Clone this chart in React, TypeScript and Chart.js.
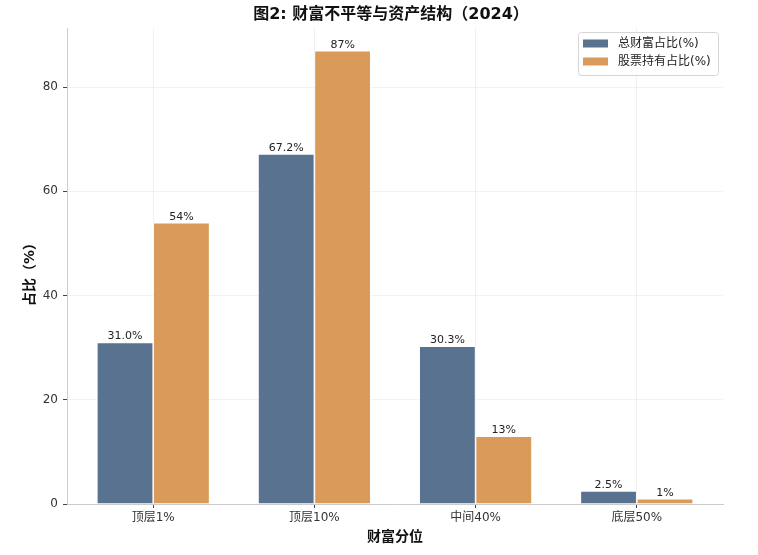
import { useEffect, useRef } from "react";
import { Chart, registerables } from "chart.js";

Chart.register(...registerables);

const categories = ["顶层1%", "顶层10%", "中间40%", "底层50%"];
const wealthShare = [31.0, 67.2, 30.3, 2.5];
const stockShare = [54, 87, 13, 1];
const seriesNames = ["总财富占比(%)", "股票持有占比(%)"];
const yTicks = [0, 20, 40, 60, 80];

const FONT = "'DejaVu Sans', 'Noto Sans CJK SC', sans-serif";
const BLUE = "#587290";
const ORANGE = "#d99a5a";

const textPlugin = {
  id: "texts",
  afterDraw(chart: any) {
    const ctx = chart.ctx;
    const area = chart.chartArea;
    ctx.save();

    // value labels
    ctx.fillStyle = "#222";
    ctx.font = `11px ${FONT}`;
    ctx.textAlign = "center";
    ctx.textBaseline = "alphabetic";
    chart.data.datasets.forEach((ds: any, di: number) => {
      const meta = chart.getDatasetMeta(di);
      meta.data.forEach((bar: any, i: number) => {
        const v = ds.data[i].y;
        const txt = di === 0 ? v.toFixed(1) + "%" : Math.round(v) + "%";
        ctx.fillText(txt, bar.x, bar.y - 3);
      });
    });

    // title
    const cx = (area.left + area.right) / 2;
    ctx.fillStyle = "#111";
    ctx.font = `bold 16px ${FONT}`;
    ctx.textBaseline = "middle";
    ctx.fillText("图2: 财富不平等与资产结构（2024）", cx - 4, 15);

    // axis titles
    ctx.font = `bold 14px ${FONT}`;
    ctx.fillText("财富分位", cx, 537);
    ctx.save();
    ctx.translate(30, (area.top + area.bottom) / 2 + 5);
    ctx.rotate(-Math.PI / 2);
    ctx.fillText("占比（%）", 0, 0);
    ctx.restore();

    // legend
    const lx = 578, ly = 32, lw = 140, lh = 43;
    ctx.fillStyle = "rgba(255,255,255,0.85)";
    ctx.strokeStyle = "#d6d6d6";
    ctx.lineWidth = 1;
    ctx.beginPath();
    ctx.roundRect(lx + 0.5, ly + 0.5, lw, lh, 3);
    ctx.fill();
    ctx.stroke();
    const colors = [BLUE, ORANGE];
    ctx.font = `12px ${FONT}`;
    ctx.textAlign = "left";
    seriesNames.forEach((name, i) => {
      const ry = ly + 11 + i * 18;
      ctx.fillStyle = colors[i];
      ctx.fillRect(583, ry - 3.5, 25, 8);
      ctx.fillStyle = "#222";
      ctx.fillText(name, 618, ry + 1);
    });

    ctx.restore();
  },
};

export default function App() {
  const ref = useRef<HTMLCanvasElement>(null);

  useEffect(() => {
    let chart: Chart | undefined;
    if (ref.current) {
      chart = new Chart(ref.current, {
        type: "bar",
        data: {
          datasets: [
            {
              label: seriesNames[0],
              data: wealthShare.map((v, i) => ({ x: i, y: v })),
              backgroundColor: BLUE,
              borderColor: "#ffffff",
              borderWidth: 0.8,
            },
            {
              label: seriesNames[1],
              data: stockShare.map((v, i) => ({ x: i, y: v })),
              backgroundColor: ORANGE,
              borderColor: "#ffffff",
              borderWidth: 0.8,
            },
          ],
        },
        options: {
          animation: false,
          responsive: false,
          devicePixelRatio: 1,
          categoryPercentage: 0.7,
          barPercentage: 1.0,
          layout: { padding: { left: 0, top: 28, right: 35, bottom: 0 } },
          plugins: {
            legend: { display: false },
            title: { display: false },
            tooltip: { enabled: false },
          },
          scales: {
            x: {
              type: "linear",
              min: -0.535,
              max: 3.535,
              offset: false,
              z: 1,
              afterBuildTicks: (scale: any) => {
                scale.ticks = categories.map((_, i) => ({ value: i }));
              },
              afterFit: (scale: any) => {
                scale.height = 51;
              },
              ticks: {
                autoSkip: false,
                maxRotation: 0,
                padding: 3,
                color: "#333",
                font: { family: FONT, size: 12 },
                callback: (v: any) => categories[Math.round(v)] ?? "",
              },
              grid: {
                color: "rgba(0,0,0,0.06)",
                tickColor: "#444",
                tickLength: 4,
                offset: false,
              },
              border: { color: "#cccccc", width: 1 },
            },
            y: {
              min: 0,
              max: 91.35,
              z: 1,
              afterBuildTicks: (scale: any) => {
                scale.ticks = yTicks.map((value) => ({ value }));
              },
              afterFit: (scale: any) => {
                scale.width = 67;
              },
              ticks: {
                padding: 5,
                color: "#333",
                font: { family: FONT, size: 12 },
              },
              grid: {
                color: "rgba(0,0,0,0.05)",
                tickColor: "#444",
                tickLength: 4,
              },
              border: { color: "#cccccc", width: 1 },
            },
          },
        },
        plugins: [textPlugin],
      } as any);
    }
    return () => {
      chart?.destroy();
    };
  }, []);

  return (
    <div style={{ position: "fixed", left: 0, top: 0, width: 758, height: 555, background: "#fff" }}>
      <canvas ref={ref} width={758} height={555} />
    </div>
  );
}
